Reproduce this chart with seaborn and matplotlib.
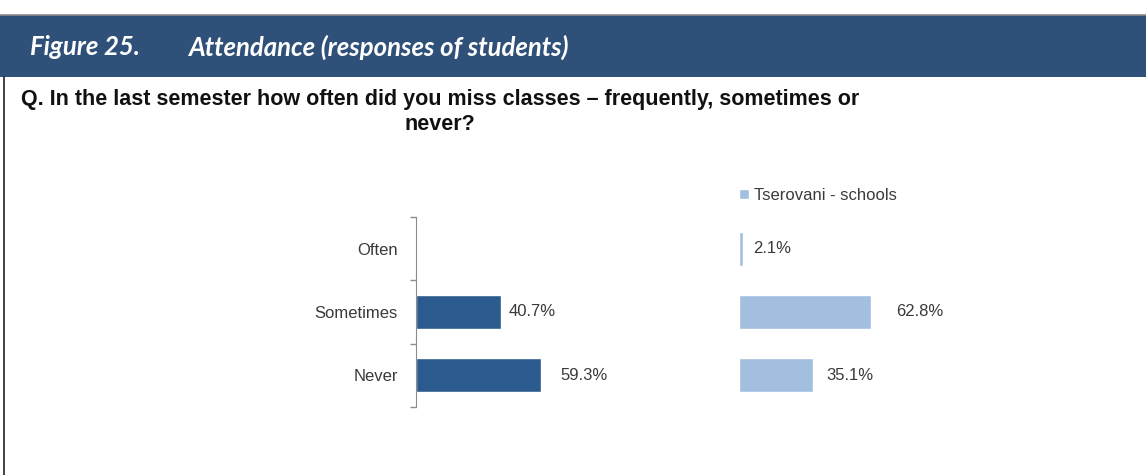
import pandas as pd
import seaborn as sns
import matplotlib.pyplot as plt
from matplotlib.patches import Rectangle
from matplotlib.lines import Line2D

# datos
categorias = ["Often", "Sometimes", "Never"]
valores_izq = [0.0, 40.7, 59.3]
valores_der = [2.1, 62.8, 35.1]
serie_der = "Tserovani - schools"

titulo_num = "Figure 25."
titulo = "Attendance (responses of students)"
pregunta = ("Q. In the last semester how often did you miss classes \u2013 frequently, sometimes or\n"
            "never?")

# separación de cada etiqueta respecto a su barra (puntos), como en el original
sep_izq = [0, 5, 14]
sep_der = [7, 18, 10]

azul_oscuro = "#2b5a8e"
azul_claro = "#a3bfdf"
azul_cabecera = "#2f5179"
gris_texto = "#3a3a3a"

sns.set_style("white")
plt.rcParams["font.family"] = ["Liberation Sans", "DejaVu Sans"]

W, H = 1146, 475
fig = plt.figure(figsize=(W / 100, H / 100), dpi=100)

# cabecera azul
fig.patches.append(Rectangle((0, 1 - 77 / H), 1, 62 / H, transform=fig.transFigure,
                             facecolor=azul_cabecera, edgecolor="none"))
fig.add_artist(Line2D([0, 1], [1 - 14.5 / H] * 2, transform=fig.transFigure, color="#8a8a8a", lw=1.2))
fig.add_artist(Line2D([3.5 / W] * 2, [0, 1 - 77 / H], transform=fig.transFigure, color="#222222", lw=1.2))

fig.text(30 / W, 1 - 47 / H, titulo_num, color="white", fontsize=18.5, fontweight="bold",
         style="italic", family=["Lato", "DejaVu Sans"], va="center")
fig.text(188 / W, 1 - 47 / H, titulo, color="white", fontsize=18.5, fontweight="bold",
         style="italic", family=["Lato", "DejaVu Sans"], va="center")

fig.text(440 / W, 1 - 112 / H, pregunta, color="#111111", fontsize=15.5, fontweight="bold",
         va="center", ha="center", multialignment="center", linespacing=1.3)

df_izq = pd.DataFrame({"cat": categorias, "valor": valores_izq})
df_der = pd.DataFrame({"cat": categorias, "valor": valores_der, "serie": serie_der})

y0 = 1 - 407 / H
alto = 190 / H
escala = 210 / W  # ancho de 100 %

ax1 = fig.add_axes([416 / W, y0, escala, alto])
sns.barplot(data=df_izq, x="valor", y="cat", orient="h", color=azul_oscuro, width=0.54,
            saturation=1, ax=ax1)
ax2 = fig.add_axes([739 / W, y0, escala, alto])
sns.barplot(data=df_der, x="valor", y="cat", hue="serie", orient="h", palette=[azul_claro],
            width=0.54, saturation=1, ax=ax2)

for ax in (ax1, ax2):
    ax.set_xlim(0, 100)
    ax.set_ylim(2.5, -0.5)
    ax.set_xlabel("")
    ax.set_ylabel("")
    ax.set_xticks([])
    for s in ["top", "right", "bottom"]:
        ax.spines[s].set_visible(False)
    ax.patch.set_alpha(0)

# etiquetas de valores
etiq_izq = ["" if v == 0 else f"{v:.1f}%" for v in valores_izq]
textos = ax1.bar_label(ax1.containers[0], labels=etiq_izq, fontsize=12, color=gris_texto)
for t, p in zip(textos, sep_izq):
    t.xyann = (p, 0)
textos = ax2.bar_label(ax2.containers[0], labels=[f"{v:.1f}%" for v in valores_der],
                       fontsize=12, color=gris_texto)
for t, p in zip(textos, sep_der):
    t.xyann = (p, 0)

# eje izquierdo con marcas entre categorías
ax1.spines["left"].set_color("#8c8c8c")
ax1.tick_params(axis="y", which="major", length=0, pad=13, labelsize=12, labelcolor=gris_texto)
ax1.set_yticks([-0.5, 0.5, 1.5, 2.5], minor=True)
ax1.tick_params(axis="y", which="minor", left=True, length=4, color="#8c8c8c", width=1)

ax2.spines["left"].set_visible(False)
ax2.set_yticks([])

sns.move_legend(ax2, "lower left", bbox_to_anchor=(0.0, 1.075), frameon=False, title=None,
                fontsize=12, handlelength=0.6, handleheight=0.6, handletextpad=0.3,
                borderaxespad=0, borderpad=0, labelcolor=gris_texto)

fig.savefig("out.png", dpi=100)
